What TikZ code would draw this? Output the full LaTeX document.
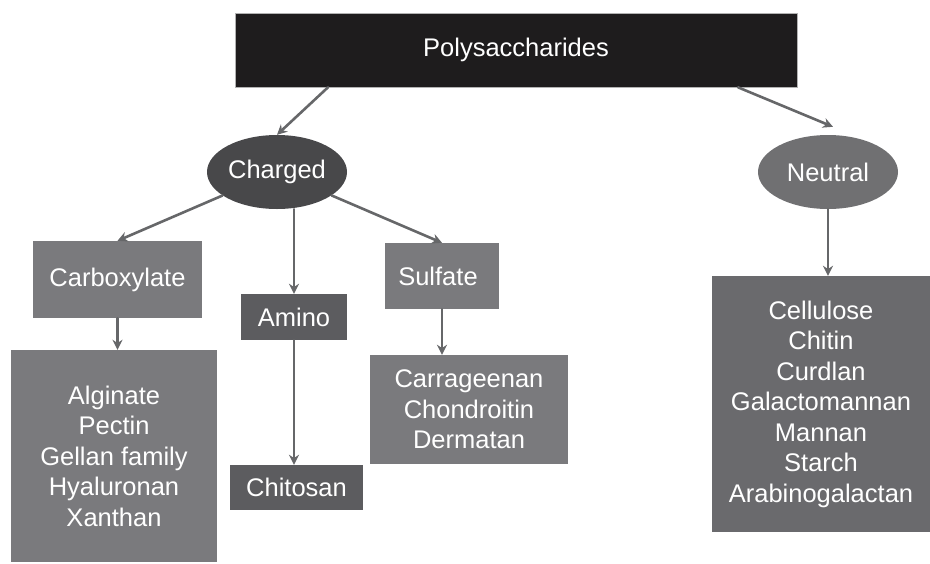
\documentclass[tikz,border=0pt]{standalone}
\usepackage{fontspec}
\setmainfont{Liberation Sans}
\usetikzlibrary{arrows.meta, shapes.geometric, calc}
\definecolor{blk}{HTML}{1E1C1D}
\definecolor{chg}{HTML}{48484A}
\definecolor{ntr}{HTML}{707072}
\definecolor{boxl}{HTML}{7A7A7D}
\definecolor{boxd}{HTML}{5C5C5F}
\definecolor{boxn}{HTML}{6A6A6D}
\definecolor{arr}{HTML}{666769}

\begin{document}
\begin{tikzpicture}[x=1pt, y=-1pt, line cap=round,
    every node/.style={text=white, font=\fontsize{25.5}{30.5}\selectfont, inner sep=0pt, align=center},
    topbox/.style={rectangle, fill=blk, draw=gray!60, line width=0.6pt},
    cls/.style={ellipse, minimum width=140, minimum height=74},
    grp/.style={rectangle, fill=boxl},
    flow/.style={-{Stealth[length=10pt, width=10pt]}, line width=2.6pt, arr}
]

% ---------------- canvas, white ----------------
\useasboundingbox (0,0) rectangle (930,563);
\fill[white] (0,0) rectangle (930,563);

% ---------------- root ----------------
\node[topbox, minimum width=562, minimum height=74] (poly) at (516,50) {Polysaccharides};

% ---------------- charge classes ----------------
\node[cls, fill=chg] (charged) at (277,172) {Charged};
\node[cls, fill=ntr] (neutral) at (828,172) {Neutral};

% ---------------- charged groups ----------------
\node[grp, minimum width=169, minimum height=77] (carbox) at (117.5,279.5) {Carboxylate};
\node[grp, fill=boxd, minimum width=106, minimum height=46] (amino) at (294,317) {Amino};
\node[grp, minimum width=114, minimum height=66] (sulfate) at (442,276) {Sulfate\hspace*{8pt}};

% ---------------- member lists ----------------
\node[grp, minimum width=206, minimum height=212] (clist) at (114,456)
    {Alginate\\Pectin\\Gellan family\\Hyaluronan\\Xanthan};
\node[grp, fill=boxd, minimum width=133, minimum height=45] (chitosan) at (296.5,487.5) {Chitosan};
\node[grp, minimum width=198, minimum height=109] (slist) at (469,409.5)
    {Carrageenan\\Chondroitin\\Dermatan};
\node[grp, fill=boxn, minimum width=218, minimum height=256] (nlist) at (821,404)
    {Cellulose\\Chitin\\Curdlan\\Galactomannan\\Mannan\\Starch\\Arabinogalactan};

% ---------------- connectors ----------------
\draw[flow] ([xshift=-188pt]poly.south) -- (charged.north);
\draw[flow] ([xshift=222pt]poly.south) -- ([xshift=5pt, yshift=8pt]neutral.north);

\draw[flow] (charged) -- (carbox.north);
\draw[flow] (charged.south -| amino.north) -- (amino.north);
\draw[flow] (charged) -- (sulfate.north);

\draw[flow] (carbox.south) -- (carbox.south |- clist.north);
\draw[flow] (amino.south) -- (amino.south |- chitosan.north);
\draw[flow] (sulfate.south) -- (sulfate.south |- slist.north);
\draw[flow] (neutral.south) -- (neutral.south |- nlist.north);

\end{tikzpicture}
\end{document}
